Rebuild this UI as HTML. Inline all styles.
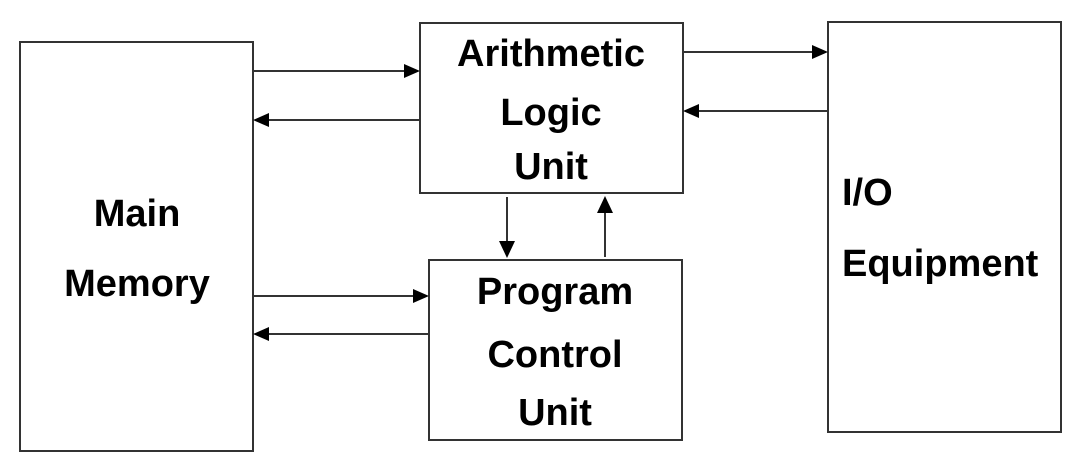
<!DOCTYPE html>
<html><head><meta charset="utf-8"><style>
html,body{margin:0;padding:0;background:#fff;}
svg{display:block;}
text{font-family:"Liberation Sans",Arial,sans-serif;font-weight:bold;font-size:38px;fill:#000;}
</style></head><body>
<svg width="1084" height="473" viewBox="0 0 1084 473" xmlns="http://www.w3.org/2000/svg">
<g fill="none" stroke="#333" stroke-width="2">
<rect x="20" y="42" width="233" height="409"/>
<rect x="420" y="23" width="263" height="170"/>
<rect x="429" y="260" width="253" height="180"/>
<rect x="828" y="22" width="233" height="410"/>
</g>
<g stroke="#333" stroke-width="2">
<line x1="253" y1="71" x2="406" y2="71"/>
<line x1="268" y1="120" x2="420" y2="120"/>
<line x1="683" y1="52" x2="814" y2="52"/>
<line x1="698" y1="111" x2="828" y2="111"/>
<line x1="253" y1="296" x2="415" y2="296"/>
<line x1="268" y1="334" x2="429" y2="334"/>
<line x1="507" y1="197" x2="507" y2="243"/>
<line x1="605" y1="212" x2="605" y2="257"/>
</g>
<g fill="#000">
<polygon points="420,71 404,64 404,78"/>
<polygon points="253,120 269,113 269,127"/>
<polygon points="828,52 812,45 812,59"/>
<polygon points="683,111 699,104 699,118"/>
<polygon points="429,296 413,289 413,303"/>
<polygon points="253,334 269,327 269,341"/>
<polygon points="507,258 499,241 515,241"/>
<polygon points="605,196 597,213 613,213"/>
</g>
<g text-anchor="middle">
<text x="551" y="66">Arithmetic</text>
<text x="551" y="125">Logic</text>
<text x="551" y="179">Unit</text>
<text x="137" y="226">Main</text>
<text x="137" y="296">Memory</text>
<text x="555" y="304">Program</text>
<text x="555" y="367">Control</text>
<text x="555" y="425">Unit</text>
</g>
<text x="842" y="205">I/O</text>
<text x="842" y="276">Equipment</text>
</svg>
</body></html>
